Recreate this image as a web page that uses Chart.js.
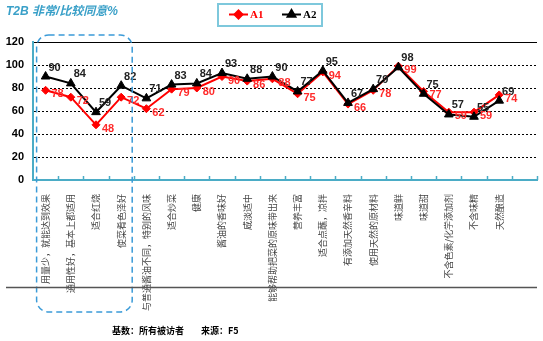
<!DOCTYPE html>
<html lang="zh">
<head>
  <meta charset="UTF-8" />
  <title>T2B 非常/比较同意%</title>
  <script src="https://cdn.jsdelivr.net/npm/chart.js"></script>
  <style>
    body { margin: 0; background: #fff; }
    .wrap { position: relative; width: 543px; height: 341px; }
  </style>
</head>
<body>
  <div class="wrap"><canvas id="t2b"></canvas></div>

  <script>
    const categories = [
      '用量少，就能达到效果', '通用性好，基本上都适用', '适合红烧', '使菜肴色泽好',
      '与普通酱油不同，特别的风味', '适合炒菜', '健康', '酱油的香味好', '咸淡适中',
      '能够帮助把菜的原味带出来', '营养丰富', '适合点蘸，凉拌', '有添加天然香辛料',
      '使用天然的原材料', '味道鲜', '味道甜', '不含色素/化学添加剂', '不含味精', '天然酿造',
      ''
    ];
    const seriesA1 = [78, 72, 48, 72, 62, 79, 80, 90, 86, 88, 75, 94, 66, 78, 99, 77, 59, 59, 74];
    const seriesA2 = [90, 84, 59, 82, 71, 83, 84, 93, 88, 90, 77, 95, 67, 79, 98, 75, 57, 55, 69];
    const yTicks = [0, 20, 40, 60, 80, 100, 120];

    const RED = '#ff0000';
    const BLUE = '#4bacc6';
    const NUM_FONT = 'bold 11px "Liberation Sans", Arial, sans-serif';

    // grid lines, value labels, legend box, highlight frame, footer
    const extras = {
      id: 'extras',
      beforeDatasetsDraw(chart) {
        const { ctx, chartArea: a, scales: { x, y } } = chart;
        ctx.save();
        yTicks.forEach(v => {
          if (v === 0) return;
          const py = Math.round(y.getPixelForValue(v)) + 0.5;
          ctx.beginPath();
          ctx.lineWidth = 1;
          ctx.strokeStyle = '#000';
          ctx.setLineDash(v === 120 ? [] : [2, 2]);
          ctx.moveTo(a.left + 1, py);
          ctx.lineTo(a.right, py);
          ctx.stroke();
        });
        // small ticks between categories on the x axis
        ctx.setLineDash([]);
        ctx.strokeStyle = BLUE;
        ctx.lineWidth = 1.5;
        const half = (x.getPixelForValue(1) - x.getPixelForValue(0)) / 2;
        for (let i = 0; i < categories.length; i++) {
          const px = Math.round(x.getPixelForValue(i) + half) + 0.5;
          ctx.beginPath();
          ctx.moveTo(px, a.bottom - 4);
          ctx.lineTo(px, a.bottom);
          ctx.stroke();
        }
        ctx.restore();
      },
      afterDatasetsDraw(chart) {
        const { ctx } = chart;
        ctx.save();
        ctx.font = NUM_FONT;
        ctx.textAlign = 'center';
        ctx.textBaseline = 'middle';
        chart.getDatasetMeta(1).data.forEach((pt, i) => {
          ctx.fillStyle = '#222';
          ctx.fillText(String(seriesA2[i]), pt.x + 9, pt.y - 9);
        });
        chart.getDatasetMeta(0).data.forEach((pt, i) => {
          ctx.fillStyle = '#ff2a2a';
          ctx.fillText(String(seriesA1[i]), pt.x + 12, pt.y + 4);
        });
        ctx.restore();
      },
      afterDraw(chart) {
        const { ctx, scales: { x } } = chart;
        ctx.save();

        // title
        ctx.font = 'italic bold 12px "Liberation Sans", Arial, "Noto Sans CJK SC", sans-serif';
        ctx.fillStyle = '#3aa0c8';
        ctx.textBaseline = 'middle';
        ctx.textAlign = 'left';
        ctx.fillText('T2B 非常/比较同意%', 6, 12);

        // legend box
        ctx.strokeStyle = '#7ec8dc';
        ctx.lineWidth = 2;
        ctx.strokeRect(218, 4, 104, 22);
        const legend = [
          { label: 'A1', color: RED, style: 'rectRot', r: 4, x0: 229 },
          { label: 'A2', color: '#000', style: 'triangle', r: 4.5, x0: 282 }
        ];
        ctx.font = 'bold 11px "Liberation Serif", serif';
        legend.forEach(l => {
          ctx.strokeStyle = l.color;
          ctx.lineWidth = 2;
          ctx.beginPath();
          ctx.moveTo(l.x0, 14.5);
          ctx.lineTo(l.x0 + 19, 14.5);
          ctx.stroke();
          ctx.fillStyle = l.color;
          Chart.helpers.drawPoint(ctx, { pointStyle: l.style, radius: l.r, borderWidth: 1 }, l.x0 + 9.5, 14.5);
          ctx.fillStyle = l.color;
          ctx.fillText(l.label, l.x0 + 21, 15);
        });

        // dashed frame around the first four items
        const left = x.getPixelForValue(0) - 9;
        const right = x.getPixelForValue(3) + 11;
        const top = 35, bottom = 312, r = 12;
        ctx.strokeStyle = '#3b9bd8';
        ctx.lineWidth = 1.5;
        ctx.setLineDash([6, 4]);
        ctx.beginPath();
        ctx.roundRect(left, top, right - left, bottom - top, r);
        ctx.stroke();
        ctx.setLineDash([]);

        // separator line
        ctx.strokeStyle = '#555';
        ctx.lineWidth = 1.5;
        ctx.beginPath();
        ctx.moveTo(6, 287.5);
        ctx.lineTo(537, 287.5);
        ctx.stroke();

        // footer
        ctx.fillStyle = '#000';
        ctx.font = 'bold 9px "Noto Sans CJK SC", sans-serif';
        ctx.textAlign = 'left';
        ctx.fillText('基数：所有被访者', 112, 331);
        ctx.fillText('来源：F5', 201, 331);
        ctx.restore();
      }
    };

    new Chart(document.getElementById('t2b'), {
      type: 'line',
      data: {
        labels: categories,
        datasets: [
          {
            label: 'A1',
            data: seriesA1,
            borderColor: RED,
            backgroundColor: RED,
            borderWidth: 2,
            pointStyle: 'rectRot',
            pointRadius: 4,
            pointBorderWidth: 1,
            tension: 0,
            order: 1
          },
          {
            label: 'A2',
            data: seriesA2,
            borderColor: '#000',
            backgroundColor: '#000',
            borderWidth: 2,
            pointStyle: 'triangle',
            pointRadius: 5,
            pointBorderWidth: 1,
            tension: 0,
            order: 0
          }
        ]
      },
      options: {
        responsive: true,
        maintainAspectRatio: false,
        animation: false,
        layout: { padding: { top: 42, left: 0, right: 0, bottom: 0 } },
        plugins: {
          legend: { display: false },
          tooltip: { enabled: false }
        },
        scales: {
          x: {
            offset: true,
            grid: { display: false },
            border: { color: BLUE, width: 2 },
            ticks: {
              autoSkip: false,
              minRotation: 90,
              maxRotation: 90,
              padding: 6,
              color: '#444',
              font: { family: '"Noto Sans CJK SC", sans-serif', size: 9 }
            },
            afterFit(scale) { scale.height = 161; }
          },
          y: {
            min: 0,
            max: 120,
            grid: { display: false, drawTicks: false },
            border: { color: BLUE, width: 2 },
            ticks: {
              stepSize: 20,
              padding: 9,
              color: '#000',
              font: { family: '"Liberation Sans", Arial, sans-serif', size: 11, weight: 'bold' }
            },
            afterFit(scale) { scale.width = 33; }
          }
        }
      },
      plugins: [extras]
    });
  </script>
</body>
</html>
